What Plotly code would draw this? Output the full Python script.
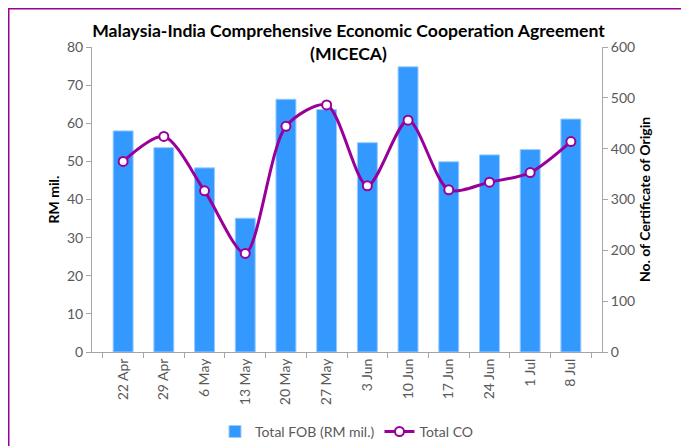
import plotly.graph_objects as go

categories = ["22 Apr", "29 Apr", "6 May", "13 May", "20 May", "27 May",
              "3 Jun", "10 Jun", "17 Jun", "24 Jun", "1 Jul", "8 Jul"]
total_fob = [58.0, 53.6, 48.3, 35.1, 66.3, 63.6, 54.9, 74.8, 49.9, 51.7, 53.1, 61.1]
total_co = [375, 424, 317, 194, 444, 486, 327, 456, 319, 334, 353, 414]

FONT = "Lato, 'DejaVu Sans', sans-serif"
GRAY = "#595959"
PURPLE = "#990099"
BLUE = "#3399FF"

fig = go.Figure()
fig.add_trace(go.Bar(
    x=categories, y=total_fob, name="Total FOB (RM mil.)",
    marker=dict(color=BLUE, line=dict(color="#9CCBFF", width=1)),
    yaxis="y",
))
fig.add_trace(go.Scatter(
    x=categories, y=total_co, name="Total CO", mode="lines+markers",
    line=dict(color=PURPLE, width=3, shape="spline", smoothing=0.8),
    marker=dict(size=9, color="white", line=dict(color=PURPLE, width=2)),
    yaxis="y2",
))

# page body has an 8px default margin, so the figure is sized to fit the window
fig.update_layout(
    width=681, height=438,
    margin=dict(l=84, r=87, t=39, b=94, autoexpand=False),
    paper_bgcolor="white", plot_bgcolor="white",
    font=dict(family=FONT, size=14, color=GRAY),
    bargap=0.51,
    title=dict(
        text="<b>Malaysia-India Comprehensive Economic Cooperation Agreement<br>(MICECA)</b>",
        x=0.5, xanchor="center", y=0.934, yanchor="top",
        font=dict(family=FONT, size=17.6, color="black"),
    ),
    xaxis=dict(
        type="category", showline=True, linecolor="#A6A6A6", linewidth=1,
        ticks="outside", tickson="boundaries", ticklen=5, tickcolor="#A6A6A6",
        tickangle=-90, showgrid=False, tickfont=dict(size=14, color=GRAY),
        automargin=False,
    ),
    yaxis=dict(
        range=[0, 80], dtick=10, showline=True, linecolor="#A6A6A6", linewidth=1,
        ticks="outside", ticklen=5, tickcolor="#A6A6A6", showgrid=False, zeroline=False,
        title=dict(text="<b>RM mil.</b>", font=dict(size=14, color="black"), standoff=4),
        tickfont=dict(size=14, color=GRAY), automargin=False,
    ),
    yaxis2=dict(
        range=[0, 600], dtick=100, overlaying="y", side="right",
        showline=True, linecolor="#A6A6A6", linewidth=1,
        ticks="outside", ticklen=5, tickcolor="#A6A6A6", showgrid=False, zeroline=False,
        title=dict(text="<b>No. of Certificate of Origin</b>", font=dict(size=14, color="black"), standoff=6),
        tickfont=dict(size=14, color=GRAY), automargin=False,
    ),
    legend=dict(
        orientation="h", x=0.5, xanchor="center", y=-0.262, yanchor="middle",
        font=dict(size=14, color=GRAY), bgcolor="rgba(0,0,0,0)",
    ),
    showlegend=True,
    shapes=[dict(
        type="rect", xref="paper", yref="paper",
        x0=-0.1647, x1=1.159, y0=-0.5, y1=1.128,
        line=dict(color=PURPLE, width=3), fillcolor="rgba(0,0,0,0)", layer="below",
    )],
)

fig.write_html("out.html")
